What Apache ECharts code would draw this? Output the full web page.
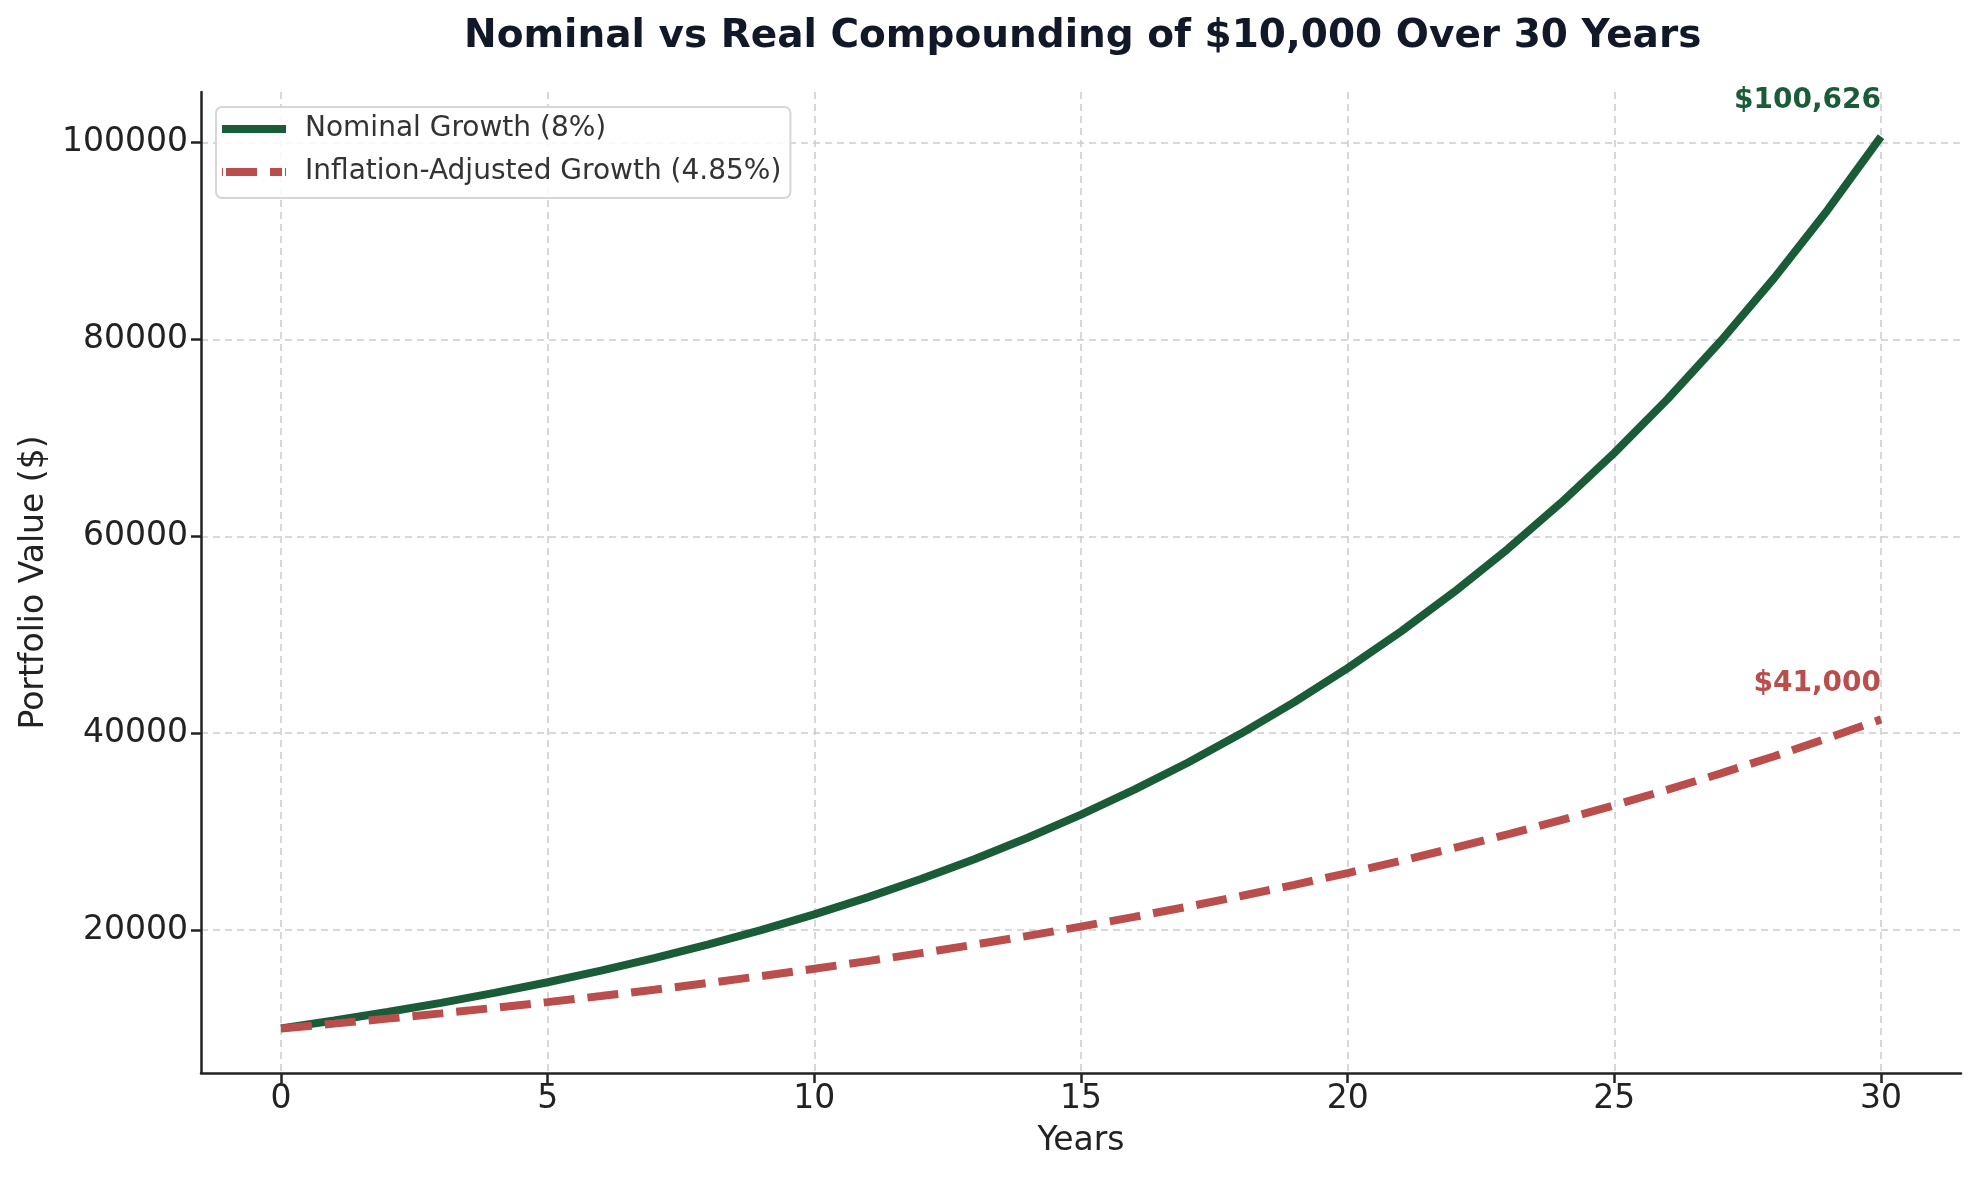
<!DOCTYPE html>
<html>
<head>
<meta charset="utf-8">
<script src="https://cdn.jsdelivr.net/npm/echarts@6/dist/echarts.min.js"></script>
<style>html,body{margin:0;padding:0;background:#fff}#c{width:1979px;height:1180px}</style>
</head>
<body>
<div id="c"></div>
<script>
const years = [0,1,2,3,4,5,6,7,8,9,10,11,12,13,14,15,16,17,18,19,20,21,22,23,24,25,26,27,28,29,30];
const nominal = [10000,10800,11664,12597,13605,14693,15869,17138,18509,19990,21589,23316,25182,27196,29372,31722,34259,37000,39960,43157,46610,50338,54365,58715,63412,68485,73964,79881,86271,93173,100626];
const real = [10000,10485,10994,11527,12086,12672,13287,13931,14607,15315,16058,16837,17653,18509,19407,20348,21335,22370,23455,24593,25785,27036,28347,29722,31163,32675,34259,35921,37663,39490,41405];
const xTicks = [0,5,10,15,20,25,30];
const yTicks = [20000,40000,60000,80000,100000];
const nominalLabel = '$100,626';
const realLabel = '$41,000';

const GREEN = '#1a5c38', RED = '#b94e4c';
const FONT = 'DejaVu Sans';

function endMark(vals, lbl, color) {
  const last = vals.length - 1;
  return {
    symbol: 'circle', symbolSize: 0, silent: true, animation: false,
    data: [{ coord: [years[last], vals[last]] }],
    label: { show: true, formatter: lbl, position: 'top', align: 'right', distance: 22,
      color: color, fontWeight: 'bold', fontSize: 28, fontFamily: FONT }
  };
}

const chart = echarts.init(document.getElementById('c'), null, { renderer: 'canvas' });
chart.setOption({
  animation: false,
  backgroundColor: '#fff',
  title: {
    text: 'Nominal vs Real Compounding of $10,000 Over 30 Years',
    left: 459, top: 12,
    textStyle: { fontFamily: FONT, fontSize: 39, fontWeight: 'bold', color: '#111827' }
  },
  legend: {
    left: 216, top: 107, orient: 'vertical',
    padding: [6, 9, 10, 6],
    itemWidth: 64, itemHeight: 8, itemGap: 11,
    backgroundColor: 'rgba(255,255,255,0.85)',
    borderColor: '#d6d6d6', borderWidth: 2, borderRadius: 6,
    textStyle: { fontFamily: FONT, fontSize: 28, lineHeight: 32, color: '#333', padding: [0, 0, 0, 14] },
    data: [
      { name: 'Nominal Growth (8%)', icon: 'path://M0,0H64V8H0Z' },
      { name: 'Inflation-Adjusted Growth (4.85%)', icon: 'path://M0,0H1V8H0Z M4,0H35V8H4Z M48,0H60V8H48Z M63,0H64V8H63Z' }
    ]
  },
  grid: { left: 201, right: 18, top: 92, bottom: 107, containLabel: false },
  xAxis: {
    type: 'value', min: -1.5, max: 31.5,
    name: 'Years', nameLocation: 'middle', nameGap: 52,
    nameTextStyle: { fontFamily: FONT, fontSize: 33, color: '#222' },
    axisLine: { show: true, onZero: false, lineStyle: { color: '#222', width: 2.5 } },
    axisTick: { show: true, length: 10, lineStyle: { color: '#222', width: 2.5 }, customValues: xTicks },
    axisLabel: { fontFamily: FONT, fontSize: 33, color: '#222', margin: 10, customValues: xTicks, formatter: v => String(v) },
    splitLine: { show: true, lineStyle: { color: '#cccccc', width: 1.5, type: [7, 5] } }
  },
  yAxis: {
    type: 'value', min: 5469, max: 105157,
    name: 'Portfolio Value ($)', nameLocation: 'middle', nameGap: 150,
    nameTextStyle: { fontFamily: FONT, fontSize: 33, color: '#222' },
    axisLine: { show: true, onZero: false, lineStyle: { color: '#222', width: 2.5 } },
    axisTick: { show: true, length: 10, lineStyle: { color: '#222', width: 2.5 }, customValues: yTicks },
    axisLabel: { fontFamily: FONT, fontSize: 33, color: '#222', margin: 13, customValues: yTicks, formatter: v => String(v) },
    splitLine: { show: true, lineStyle: { color: '#cccccc', width: 1.5, type: [7, 5] } }
  },
  series: [
    {
      name: 'Nominal Growth (8%)', type: 'line', symbol: 'none', smooth: false,
      lineStyle: { color: GREEN, width: 8 }, itemStyle: { color: GREEN },
      data: years.map((y, i) => [y, nominal[i]]), z: 3,
      markPoint: endMark(nominal, nominalLabel, GREEN)
    },
    {
      name: 'Inflation-Adjusted Growth (4.85%)', type: 'line', symbol: 'none', smooth: false,
      lineStyle: { color: RED, width: 8, type: [31, 13] }, itemStyle: { color: RED },
      data: years.map((y, i) => [y, real[i]]), z: 4,
      markPoint: endMark(real, realLabel, RED)
    }
  ]
});
</script>
</body>
</html>
